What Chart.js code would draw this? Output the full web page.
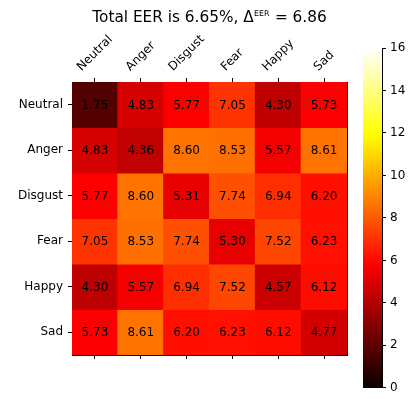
<!DOCTYPE html>
<html>
<head>
<meta charset="utf-8">
<script src="https://cdn.jsdelivr.net/npm/chart.js@4/dist/chart.umd.min.js"></script>
<style>
  html, body { margin: 0; padding: 0; background: #fff; }
  #wrap { position: relative; width: 408px; height: 399px; overflow: hidden; }
  #main { position: absolute; left: 0; top: 0; }
  #cbar { position: absolute; left: 340px; top: 0; }
</style>
</head>
<body>
<div id="wrap">
  <canvas id="main" width="408" height="399"></canvas>
  <canvas id="cbar" width="68" height="399"></canvas>
</div>
<script>
// Emotion categories (columns left to right, rows top to bottom)
const emotions = ['Neutral', 'Anger', 'Disgust', 'Fear', 'Happy', 'Sad'];

// Pairwise EER (%) per row
const eerNeutral = [1.75, 4.83, 5.77, 7.05, 4.30, 5.73];
const eerAnger   = [4.83, 4.36, 8.60, 8.53, 5.57, 8.61];
const eerDisgust = [5.77, 8.60, 5.31, 7.74, 6.94, 6.20];
const eerFear    = [7.05, 8.53, 7.74, 5.30, 7.52, 6.23];
const eerHappy   = [4.30, 5.57, 6.94, 7.52, 4.57, 6.12];
const eerSad     = [5.73, 8.61, 6.20, 6.23, 6.12, 4.77];
const eerRows = [eerNeutral, eerAnger, eerDisgust, eerFear, eerHappy, eerSad];

// Colour scale range and colourbar ticks
const colorMin = 0;
const colorMax = 16;
const colorbarTicks = [0, 2, 4, 6, 8, 10, 12, 14, 16];

// Title pieces
const titleMain = 'Total EER is 6.65%, \u0394';
const titleSup = 'EER';
const titleTail = ' = 6.86';

const FONT = '"DejaVu Sans", "Liberation Sans", sans-serif';
const nRows = emotions.length;

// "hot" colour map
function hot(v) {
  let t = (v - colorMin) / (colorMax - colorMin);
  t = Math.max(0, Math.min(1, t));
  const a = 0.365079, b = 0.746032;
  const r = t < a ? 0.0416 + (1 - 0.0416) * t / a : 1;
  const g = t < a ? 0 : (t < b ? (t - a) / (b - a) : 1);
  const bl = t < b ? 0 : (t - b) / (1 - b);
  return 'rgb(' + Math.round(r * 255) + ',' + Math.round(g * 255) + ',' + Math.round(bl * 255) + ')';
}

function fixSize(prop, px) {
  return function (scale) { scale[prop] = px; };
}

// One floating-bar dataset per row; the first row sits at the top of the y range
const datasets = eerRows.map((row, r) => ({
  label: emotions[r],
  data: row.map(() => [nRows - 1 - r, nRows - r]),
  values: row,
  backgroundColor: row.map(v => hot(v)),
  borderWidth: 0,
  inflateAmount: 0.5,
  grouped: false,
  barPercentage: 1,
  categoryPercentage: 1
}));

const axisGrid = {
  drawOnChartArea: false,
  offset: false,
  color: '#000',
  tickColor: '#000',
  tickLength: 4,
  lineWidth: 1
};
const axisBorder = { display: true, color: '#000', width: 1 };

// Cell value labels
const cellLabels = {
  id: 'cellLabels',
  afterDatasetsDraw(chart) {
    const ctx = chart.ctx;
    ctx.save();
    ctx.font = '12px ' + FONT;
    ctx.fillStyle = '#000';
    ctx.textAlign = 'center';
    ctx.textBaseline = 'middle';
    chart.data.datasets.forEach((ds, i) => {
      const meta = chart.getDatasetMeta(i);
      meta.data.forEach((el, j) => {
        const p = el.getCenterPoint();
        ctx.fillText(ds.values[j].toFixed(2), p.x, p.y + 1);
      });
    });
    ctx.restore();
  }
};

// Rotated column labels above the matrix
const columnLabels = {
  id: 'columnLabels',
  afterDraw(chart) {
    const ctx = chart.ctx;
    const xs = chart.scales.x;
    const size = 12;
    const h = 1.164 * size;
    const bottom = chart.chartArea.top - 8;
    ctx.save();
    ctx.font = size + 'px ' + FONT;
    ctx.fillStyle = '#000';
    ctx.textAlign = 'center';
    ctx.textBaseline = 'middle';
    emotions.forEach((name, i) => {
      const w = ctx.measureText(name).width;
      const x = xs.getPixelForTick(i);
      const half = (w + h) * Math.SQRT1_2 / 2;
      ctx.save();
      ctx.translate(x, bottom - half);
      ctx.rotate(-Math.PI / 4);
      ctx.fillText(name, 0, 0);
      ctx.restore();
    });
    ctx.restore();
  }
};

// Title with superscript
const titleText = {
  id: 'titleText',
  afterDraw(chart) {
    const ctx = chart.ctx;
    const area = chart.chartArea;
    const cx = (area.left + area.right) / 2;
    const base = 22;
    const big = '15.3px ' + FONT;
    const small = '7.9px ' + FONT;
    ctx.save();
    ctx.fillStyle = '#000';
    ctx.textBaseline = 'alphabetic';
    ctx.textAlign = 'left';
    ctx.font = big;
    const w1 = ctx.measureText(titleMain).width;
    const w3 = ctx.measureText(titleTail).width;
    ctx.font = small;
    const w2 = ctx.measureText(titleSup).width + 1;
    let x = cx - (w1 + w2 + w3) / 2;
    ctx.font = big;
    ctx.fillText(titleMain, x, base);
    x += w1 + 0.5;
    ctx.font = small;
    ctx.fillText(titleSup, x, base - 6);
    x += w2 - 0.5;
    ctx.font = big;
    ctx.fillText(titleTail, x, base);
    ctx.restore();
  }
};

new Chart(document.getElementById('main'), {
  type: 'bar',
  data: { labels: emotions, datasets },
  options: {
    responsive: false,
    animation: false,
    devicePixelRatio: 1,
    layout: { padding: 0 },
    plugins: { legend: { display: false }, title: { display: false }, tooltip: { enabled: false } },
    scales: {
      x: {
        type: 'category',
        position: 'top',
        offset: true,
        grid: axisGrid,
        border: axisBorder,
        ticks: { display: false },
        afterFit: fixSize('height', 82)
      },
      xb: {
        type: 'category',
        labels: emotions,
        position: 'bottom',
        offset: true,
        grid: axisGrid,
        border: axisBorder,
        ticks: { display: false },
        afterFit: fixSize('height', 44)
      },
      y: {
        type: 'linear',
        position: 'left',
        min: 0,
        max: nRows,
        grid: axisGrid,
        border: axisBorder,
        afterBuildTicks(scale) {
          scale.ticks = emotions.map((_, i) => ({ value: nRows - 0.5 - i }));
        },
        ticks: {
          padding: 5,
          color: '#000',
          font: { family: FONT, size: 12 },
          callback: v => emotions[nRows - 1 - Math.floor(v)]
        },
        afterFit: fixSize('width', 72)
      },
      yr: {
        type: 'linear',
        position: 'right',
        min: 0,
        max: nRows,
        grid: { drawOnChartArea: false, drawTicks: false },
        border: axisBorder,
        ticks: { display: false },
        afterFit: fixSize('width', 61)
      }
    }
  },
  plugins: [cellLabels, columnLabels, titleText]
});

// Colourbar
const cbarGradient = (context) => {
  const chart = context.chart;
  const area = chart.chartArea;
  if (!area) return null;
  const g = chart.ctx.createLinearGradient(0, area.bottom, 0, area.top);
  const n = 64;
  for (let i = 0; i <= n; i++) {
    g.addColorStop(i / n, hot(colorMin + (colorMax - colorMin) * i / n));
  }
  return g;
};

new Chart(document.getElementById('cbar'), {
  type: 'bar',
  data: {
    labels: [''],
    datasets: [{
      data: [[colorMin, colorMax]],
      backgroundColor: cbarGradient,
      borderWidth: 0,
      barPercentage: 1,
      categoryPercentage: 1
    }]
  },
  options: {
    responsive: false,
    animation: false,
    devicePixelRatio: 1,
    layout: { padding: 0 },
    plugins: { legend: { display: false }, tooltip: { enabled: false } },
    scales: {
      x: {
        type: 'category',
        position: 'bottom',
        grid: { drawOnChartArea: false, drawTicks: false },
        border: axisBorder,
        ticks: { display: false },
        afterFit: fixSize('height', 9)
      },
      xt: {
        type: 'category',
        labels: [''],
        position: 'top',
        grid: { drawOnChartArea: false, drawTicks: false },
        border: axisBorder,
        ticks: { display: false },
        afterFit: fixSize('height', 48)
      },
      y: {
        type: 'linear',
        position: 'right',
        min: colorMin,
        max: colorMax,
        grid: axisGrid,
        border: axisBorder,
        afterBuildTicks(scale) {
          scale.ticks = colorbarTicks.map(v => ({ value: v }));
        },
        ticks: {
          padding: 4,
          color: '#000',
          font: { family: FONT, size: 12 }
        },
        afterFit: fixSize('width', 26)
      },
      yl: {
        type: 'linear',
        position: 'left',
        min: colorMin,
        max: colorMax,
        grid: { drawOnChartArea: false, drawTicks: false },
        border: axisBorder,
        ticks: { display: false },
        afterFit: fixSize('width', 23)
      }
    }
  }
});
</script>
</body>
</html>
